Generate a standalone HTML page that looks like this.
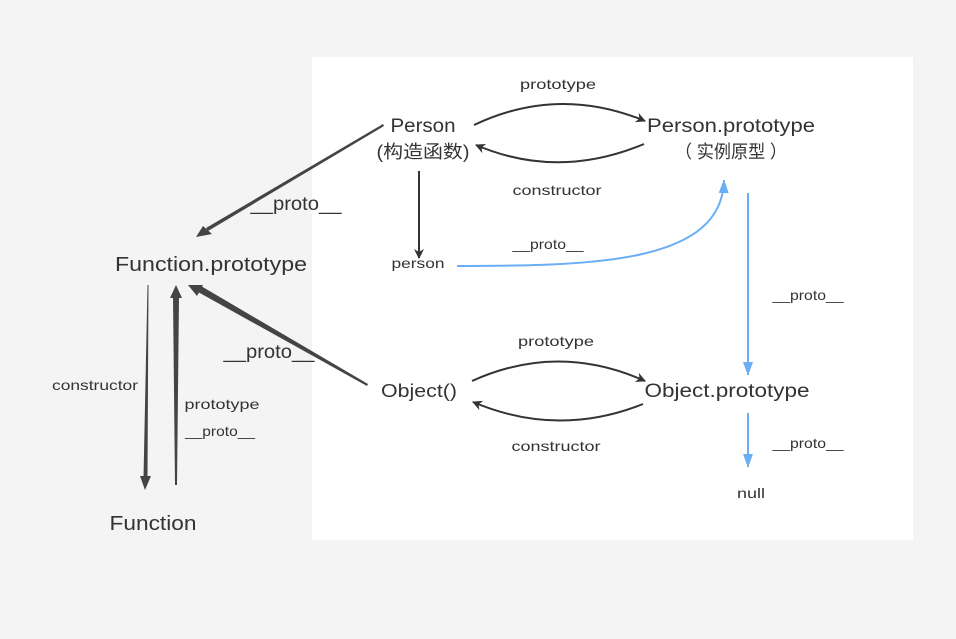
<!DOCTYPE html>
<html><head><meta charset="utf-8"><style>
html,body{margin:0;padding:0;background:#f4f4f4;}
svg{display:block;}
text{font-family:"Liberation Sans","Noto Sans CJK SC",sans-serif;fill:#333;}
</style></head><body>
<svg width="956" height="639" viewBox="0 0 956 639" xmlns="http://www.w3.org/2000/svg">
<defs>
<marker id="ak" markerWidth="10" markerHeight="10" refX="9" refY="5" orient="auto" markerUnits="userSpaceOnUse"><path d="M0,0 L10,5 L0,10 L3,5 z" fill="#333"/></marker>
<marker id="ab" markerWidth="10" markerHeight="14" refX="13" refY="5" orient="auto" markerUnits="userSpaceOnUse"><path d="M0,0 L14,5 L0,10 z" fill="#6aaef5"/></marker>
</defs>
<rect x="312" y="57" width="601" height="483" fill="#fff"/>
<g text-anchor="middle" lengthAdjust="spacingAndGlyphs">
<text x="423" y="132" font-size="19" textLength="65" lengthAdjust="spacingAndGlyphs">Person</text>
<text x="423" y="158" font-size="18" textLength="93" lengthAdjust="spacingAndGlyphs">(构造函数)</text>
<text x="731" y="132" font-size="19" textLength="168" lengthAdjust="spacingAndGlyphs">Person.prototype</text>
<text x="731" y="158" font-size="18" textLength="112" lengthAdjust="spacingAndGlyphs">（ 实例原型 ）</text>
<text x="558" y="89" font-size="14" textLength="76" lengthAdjust="spacingAndGlyphs">prototype</text>
<text x="557" y="195" font-size="14" textLength="89" lengthAdjust="spacingAndGlyphs">constructor</text>
<text x="418" y="268" font-size="14" textLength="53" lengthAdjust="spacingAndGlyphs">person</text>
<text x="548" y="249" font-size="14" textLength="71" lengthAdjust="spacingAndGlyphs">__proto__</text>
<text x="808" y="300" font-size="14" textLength="71" lengthAdjust="spacingAndGlyphs">__proto__</text>
<text x="419" y="397" font-size="18" textLength="76" lengthAdjust="spacingAndGlyphs">Object()</text>
<text x="727" y="397" font-size="19" textLength="165" lengthAdjust="spacingAndGlyphs">Object.prototype</text>
<text x="556" y="346" font-size="14" textLength="76" lengthAdjust="spacingAndGlyphs">prototype</text>
<text x="556" y="451" font-size="14" textLength="89" lengthAdjust="spacingAndGlyphs">constructor</text>
<text x="808" y="448" font-size="14" textLength="71" lengthAdjust="spacingAndGlyphs">__proto__</text>
<text x="751" y="498" font-size="14" textLength="28" lengthAdjust="spacingAndGlyphs">null</text>
<text x="211" y="271" font-size="20" textLength="192" lengthAdjust="spacingAndGlyphs">Function.prototype</text>
<text x="153" y="530" font-size="20" textLength="87" lengthAdjust="spacingAndGlyphs">Function</text>
<text x="296" y="210" font-size="19" textLength="91" lengthAdjust="spacingAndGlyphs">__proto__</text>
<text x="269" y="358" font-size="19" textLength="91" lengthAdjust="spacingAndGlyphs">__proto__</text>
<text x="95" y="390" font-size="14" textLength="86" lengthAdjust="spacingAndGlyphs">constructor</text>
<text x="222" y="409" font-size="14" textLength="75" lengthAdjust="spacingAndGlyphs">prototype</text>
<text x="220" y="436" font-size="14" textLength="70" lengthAdjust="spacingAndGlyphs">__proto__</text>
</g>
<g fill="none" stroke="#333" stroke-width="2">
<path d="M474,125 Q558,85 645,121" marker-end="url(#ak)"/>
<path d="M644,144 Q558,180 476,145" marker-end="url(#ak)"/>
<path d="M472,381 Q558,342 645,381" marker-end="url(#ak)"/>
<path d="M643,404 Q558,438 473,402" marker-end="url(#ak)"/>
<path d="M419,171 L419,258" marker-end="url(#ak)"/>
</g>
<g fill="none" stroke="#6aaef5" stroke-width="2">
<path d="M457,266 C600,266 722,262 724,180" marker-end="url(#ab)"/>
<path d="M748,193 L748,375" marker-end="url(#ab)"/>
<path d="M748,413 L748,467" marker-end="url(#ab)"/>
</g>
<g fill="#444">
<polygon points="383,124 384,126 208,231 206,228"/>
<polygon points="196,237 203,226 212,234"/>
<polygon points="368,384 367,386 198,292 201,286"/>
<polygon points="188,285 203,285 197,296"/>
<polygon points="147.5,285 148.5,285 147.5,478 143.5,478"/>
<polygon points="140,476 151,476 145,490"/>
<polygon points="175,485 177,485 179,296 173,296"/>
<polygon points="170,298 182,298 176,285"/>
</g>
</svg>
</body></html>
